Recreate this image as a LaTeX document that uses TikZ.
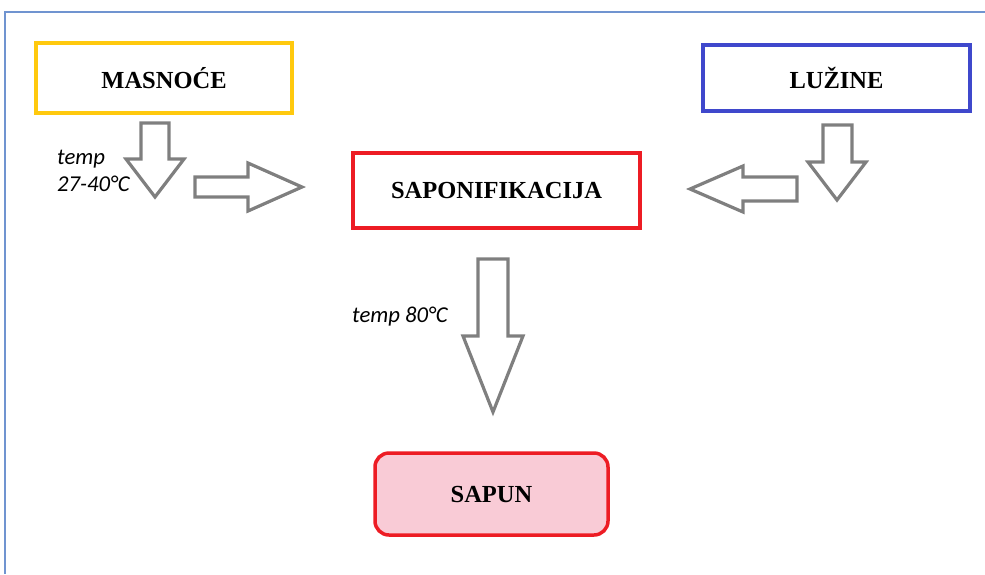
\documentclass[tikz,border=0pt]{standalone}
\usepackage{fontspec}
\usepackage{xcolor}
\usepackage{tikz}
\setmainfont{Liberation Serif}
\newfontfamily\calfont{Carlito}
\definecolor{frame}{HTML}{7094D0}
\definecolor{yel}{HTML}{FFC90E}
\definecolor{blu}{HTML}{3F48CC}
\definecolor{crv}{HTML}{ED1C24}
\definecolor{pink}{HTML}{F9CBD6}
\definecolor{siva}{HTML}{7F7F7F}
\tikzset{
  box/.style={line width=3.5pt, minimum width=#1, inner sep=0pt,
    font=\fontsize{24.5}{28}\selectfont\bfseries},
  arr/.style={line width=3.2pt, draw=siva, line join=miter},
  lab/.style={font=\calfont\itshape\fontsize{22.7}{27}\selectfont, anchor=base west, inner sep=0pt},
}

\begin{document}
\begin{tikzpicture}[x=1pt, y=-1pt]
  \useasboundingbox (0,0) rectangle (985,574);
  % frame
  \draw[frame, line width=1.5pt] (5,574) -- (5,12) -- (985,12);

  % boxes
  \node[box=256pt, draw=yel, minimum height=70pt] (mas) at (164,78) {MASNOĆE};
  \node[box=267pt, draw=blu, minimum height=66pt] (luz) at (836.5,78) {LUŽINE};
  \node[box=287pt, draw=crv, minimum height=75pt] (sap) at (496.5,190.5) {SAPONIFIKACIJA};
  \node[box=233pt, draw=crv, fill=pink, rounded corners=14pt,
    minimum height=82pt] (sapun) at (491.5,494) {SAPUN};

  % arrows
  \draw[arr] (141,123) -- (169,123) -- (169,159) -- (184,159) -- (155,197)
    -- (126,159) -- (141,159) -- cycle;
  \draw[arr] (195,177) -- (248,177) -- (248,163) -- (302,187) -- (248,211)
    -- (248,197) -- (195,197) -- cycle;
  \draw[arr] (823,125) -- (852,125) -- (852,162) -- (866,162) -- (837,200)
    -- (808,162) -- (823,162) -- cycle;
  \draw[arr] (797,177) -- (743,177) -- (743,166) -- (690,189) -- (743,212)
    -- (743,201) -- (797,201) -- cycle;
  \draw[arr] (478,259) -- (508,259) -- (508,336) -- (523,336) -- (493,412)
    -- (463,336) -- (478,336) -- cycle;

  % temperatures
  \node[lab] (t1) at (57,164) {temp};
  \node[lab] (t2) at (57,191) {27-40°C};
  \node[lab] (t3) at (352,322) {temp 80°C};
\end{tikzpicture}
\end{document}
